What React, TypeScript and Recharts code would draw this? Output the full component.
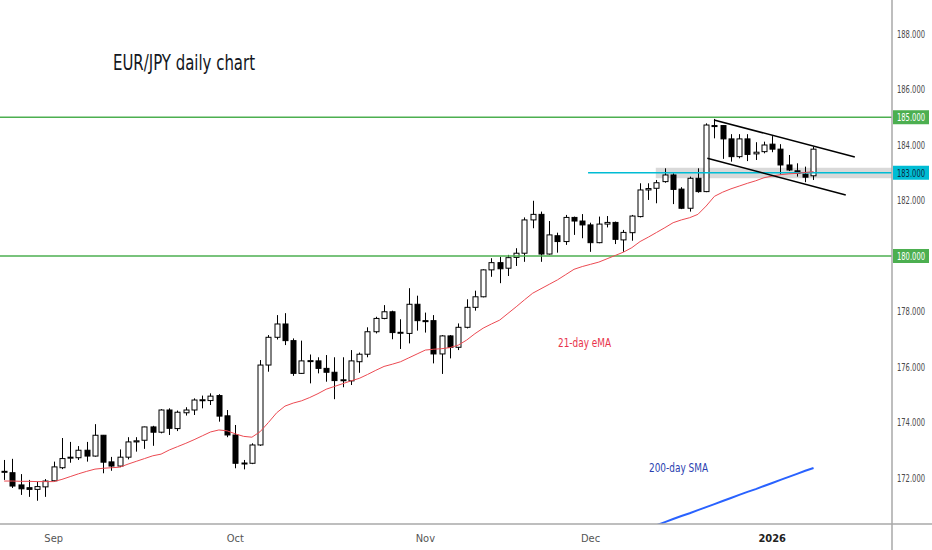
import React from "react";
import {
  ComposedChart,
  Bar,
  Line,
  XAxis,
  YAxis,
  ReferenceLine,
  ReferenceArea,
} from "recharts";

// daily candles, late Aug 2025 -> early Jan 2026
const opens = [
  172.22, 172.19, 171.75, 171.65, 171.59, 171.68, 171.9, 172.37, 172.73, 172.73,
  173.0, 172.79, 173.54, 172.58, 172.43, 172.75, 173.3, 173.36, 173.84, 173.65,
  174.45, 173.78, 174.35, 174.45, 174.8, 174.79, 174.97, 174.24, 173.55, 172.53,
  172.53, 173.19, 176.07, 177.07, 177.55, 176.95, 175.77, 176.22, 176.22, 175.95,
  175.81, 175.53, 175.5, 176.19, 176.46, 177.27, 177.75, 177.99, 177.24, 177.21,
  178.26, 177.67, 177.67, 176.47, 177.12, 176.71, 177.43, 178.15, 178.53, 179.5,
  179.76, 179.56, 179.95, 180.1, 181.3, 181.5, 180.07, 180.73, 180.52, 181.39,
  181.26, 181.12, 180.48, 181.15, 181.21, 180.58, 180.84, 181.42, 182.38, 182.44,
  182.68, 182.92, 182.41, 181.72, 182.8, 182.32, 184.7, 184.7, 184.22, 183.58,
  184.22, 183.68, 183.76, 184.03, 183.85, 183.28, 183.07, 182.95, 182.89,
];
const highs = [
  172.65, 172.69, 172.14, 171.93, 171.87, 171.96, 172.59, 173.44, 173.3, 173.15,
  173.3, 173.94, 173.55, 172.76, 173.03, 173.47, 173.47, 173.85, 173.88, 174.48,
  174.51, 174.43, 174.55, 174.87, 174.97, 175.05, 175.02, 174.45, 173.91, 172.65,
  173.25, 176.25, 177.15, 177.87, 177.94, 177.03, 176.95, 176.45, 176.35, 176.43,
  176.35, 176.35, 176.61, 176.52, 177.43, 177.81, 178.23, 178.03, 177.72, 178.84,
  178.57, 177.96, 177.87, 177.15, 177.15, 177.57, 178.44, 178.75, 179.52, 179.92,
  179.97, 180.04, 180.28, 181.39, 181.99, 181.6, 181.26, 180.84, 181.48, 181.42,
  181.51, 181.2, 181.42, 181.44, 181.24, 180.94, 181.48, 182.62, 182.62, 182.74,
  183.16, 182.98, 182.48, 182.86, 183.16, 184.78, 184.94, 184.72, 184.39, 184.39,
  184.39, 184.1, 184.12, 184.32, 184.03, 183.64, 183.34, 183.22, 183.94,
];
const lows = [
  171.93, 171.64, 171.39, 171.32, 171.18, 171.32, 171.87, 172.32, 172.55, 172.65,
  172.59, 172.77, 172.17, 172.26, 172.39, 172.67, 172.95, 173.05, 173.16, 173.61,
  173.55, 173.69, 174.25, 174.27, 174.51, 174.63, 174.03, 173.47, 172.35, 172.31,
  172.5, 173.16, 175.83, 176.99, 176.79, 175.68, 175.75, 175.41, 175.77, 175.47,
  174.84, 175.27, 175.35, 175.79, 176.35, 177.21, 177.72, 177.0, 176.65, 176.85,
  177.31, 177.24, 176.13, 175.75, 176.31, 176.61, 177.39, 178.03, 178.51, 179.25,
  179.02, 179.28, 179.64, 179.79, 181.0, 179.79, 180.05, 180.12, 180.4, 180.76,
  180.64, 180.15, 180.46, 181.03, 180.43, 180.15, 180.55, 181.39, 182.02, 181.9,
  182.64, 181.87, 181.69, 181.6, 182.28, 182.3, 184.24, 183.5, 183.4, 183.52,
  183.42, 183.46, 183.7, 183.74, 182.94, 183.06, 182.86, 182.66, 182.74,
];
const closes = [
  172.24, 171.71, 171.61, 171.59, 171.69, 171.89, 172.4, 172.7, 172.75, 173.0,
  172.79, 173.54, 172.57, 172.43, 172.75, 173.3, 173.34, 173.84, 173.65, 174.45,
  173.79, 174.37, 174.45, 174.81, 174.82, 174.95, 174.23, 173.55, 172.53, 172.54,
  173.19, 176.07, 177.07, 177.55, 176.95, 175.77, 176.22, 176.23, 175.95, 175.81,
  175.51, 175.54, 176.22, 176.46, 177.27, 177.75, 177.99, 177.24, 177.25, 178.26,
  177.67, 177.66, 176.47, 177.12, 176.71, 177.43, 178.15, 178.53, 179.5, 179.76,
  179.54, 179.94, 180.1, 181.3, 181.5, 180.07, 180.76, 180.52, 181.39, 181.26,
  181.12, 180.48, 181.15, 181.21, 180.6, 180.85, 181.44, 182.38, 182.43, 182.64,
  182.92, 182.4, 181.72, 182.8, 182.32, 184.72, 184.69, 184.22, 183.58, 184.22,
  183.66, 183.74, 184.0, 183.85, 183.28, 183.1, 182.98, 182.84, 183.85,
];

const ema21 = [
  171.89, 171.89, 171.88, 171.88, 171.87, 171.87, 171.87, 171.95, 172.05, 172.15,
  172.24, 172.32, 172.35, 172.37, 172.39, 172.5, 172.6, 172.7, 172.8, 172.86,
  173.01, 173.13, 173.25, 173.38, 173.52, 173.66, 173.73, 173.7, 173.59, 173.5,
  173.47, 173.67, 174.0, 174.35, 174.59, 174.7, 174.78, 174.9, 175.04, 175.2,
  175.3, 175.4, 175.5, 175.59, 175.73, 175.88, 176.02, 176.1, 176.19, 176.33,
  176.47, 176.61, 176.64, 176.66, 176.7, 176.79, 176.97, 177.2, 177.4, 177.55,
  177.69, 177.93, 178.17, 178.42, 178.66, 178.82, 178.98, 179.14, 179.33, 179.52,
  179.62, 179.7, 179.78, 179.9, 180.02, 180.14, 180.3, 180.52, 180.68, 180.85,
  181.02, 181.2, 181.3, 181.38, 181.5, 181.8, 182.15, 182.3, 182.42, 182.52,
  182.62, 182.71, 182.82, 182.88, 182.93, 182.96, 182.98, 183.01, 183.04,
];

// 200-day SMA, visible from bar 79 on
const smaStart = 79;
const sma200 = [
  170.3, 170.41, 170.52, 170.63, 170.73, 170.84, 170.95, 171.06, 171.17, 171.28,
  171.39, 171.5, 171.6, 171.71, 171.82, 171.93, 172.04, 172.15, 172.26, 172.36,
];

const monthTicks = [6, 28, 51, 71, 93];
const monthLabels = ["Sep", "Oct", "Nov", "Dec", "2026"];
const priceTicks = [172, 174, 176, 178, 180, 182, 184, 186, 188];

const levels = [185, 180];
const pivot = 183;
const pivotStart = 70.7;
const zone = { x1: 78.9, y1: 182.8, y2: 183.18 };
const channelTop = [
  { x: 85.95, y: 184.9 },
  { x: 103.0, y: 183.57 },
];
const channelBottom = [
  { x: 85.14, y: 183.52 },
  { x: 101.9, y: 182.2 },
];

const data = opens.map((o, i) => ({
  i,
  open: o,
  high: highs[i],
  low: lows[i],
  close: closes[i],
  ema: ema21[i],
  sma: i >= smaStart ? sma200[i - smaStart] : null,
}));

const FONT = "'DejaVu Sans Condensed', 'Liberation Sans Narrow', Roboto, sans-serif";

const Candle = (props: any) => {
  const { x, y, width, height, payload } = props;
  if (x == null || y == null) return null;
  const top = Math.min(y, y + height);
  const h = Math.abs(height);
  const { open, close, high, low } = payload;
  const px = (v: number) => top + ((high - v) / (high - low || 1)) * h;
  const cx = Math.round(x + width / 2) + 0.5;
  const up = close >= open;
  const bTop = px(Math.max(open, close));
  const bBot = px(Math.min(open, close));
  const bh = Math.max(1, bBot - bTop);
  return (
    <g>
      <line x1={cx} x2={cx} y1={top} y2={top + h} stroke="#000" strokeWidth={1} />
      <rect
        x={cx - 2.5}
        y={bTop}
        width={5}
        height={bh}
        fill={up ? "#fff" : "#000"}
        stroke="#000"
        strokeWidth={1}
      />
    </g>
  );
};

const MonthTick = (props: any) => {
  const { x, y, payload } = props;
  const k = monthTicks.indexOf(payload.value);
  const label = monthLabels[k] ?? "";
  const isYear = label === "2026";
  return (
    <text
      x={x}
      y={y + 10}
      textAnchor="middle"
      fontFamily={FONT}
      fontSize={11}
      fontWeight={isYear ? 700 : 400}
      fill={isYear ? "#222" : "#555"}
    >
      {label}
    </text>
  );
};

const PriceTick = (props: any) => {
  const { x, y, payload } = props;
  // levels carry their own badge
  if (levels.includes(payload.value)) return null;
  return (
    <text
      x={x + 28}
      y={y + 4}
      textAnchor="end"
      fontFamily={FONT}
      fontSize={10.5}
      fill="#4a4a4a"
      textLength={28}
      lengthAdjust="spacingAndGlyphs"
    >
      {payload.value.toFixed(3)}
    </text>
  );
};

const Badge = (props: any) => {
  const { viewBox, text, fill, color } = props;
  if (!viewBox) return null;
  const left = viewBox.x + viewBox.width;
  const cy = viewBox.y;
  return (
    <g>
      <rect x={left + 1} y={cy - 7} width={36} height={14} fill={fill} />
      <text
        x={left + 33}
        y={cy + 4}
        textAnchor="end"
        fontFamily={FONT}
        fontSize={10.5}
        fill={color}
        textLength={28}
        lengthAdjust="spacingAndGlyphs"
      >
        {text}
      </text>
    </g>
  );
};

export default function App() {
  return (
    <div
      style={{
        position: "fixed",
        left: 0,
        top: 0,
        width: 932,
        height: 550,
        background: "#fff",
      }}
    >
      <ComposedChart
        width={932}
        height={550}
        data={data}
        margin={{ top: 0, right: 0, bottom: 0, left: 0 }}
      >
        <XAxis
          dataKey="i"
          type="number"
          domain={[-0.5, 107.5]}
          allowDataOverflow
          ticks={monthTicks}
          interval={0}
          tick={<MonthTick />}
          tickLine={false}
          axisLine={{ stroke: "#a8a8a8", strokeWidth: 1.5 }}
          height={26}
        />
        <YAxis
          orientation="right"
          type="number"
          domain={[170.342, 189.225]}
          allowDataOverflow
          ticks={priceTicks}
          interval={0}
          tick={<PriceTick />}
          tickLine={false}
          tickSize={5}
          tickMargin={0}
          axisLine={{ stroke: "#a8a8a8", strokeWidth: 1.5 }}
          width={40}
        />
        <ReferenceArea
          x1={zone.x1}
          x2={107.5}
          y1={zone.y1}
          y2={zone.y2}
          fill="#cfcfcf"
          fillOpacity={0.8}
          stroke="none"
          ifOverflow="visible"
        />
        {levels.map((v) => (
          <ReferenceLine
            key={v}
            y={v}
            stroke="#4caf50"
            strokeWidth={1.5}
            label={<Badge text={v.toFixed(3)} fill="#4caf50" color="#fff" />}
          />
        ))}
        <ReferenceLine
          segment={[
            { x: pivotStart, y: pivot },
            { x: 107.5, y: pivot },
          ]}
          stroke="#00bcd4"
          strokeWidth={1.5}
          label={<Badge text={pivot.toFixed(3)} fill="#00bcd4" color="#0d2a40" />}
        />
        <Bar
          dataKey={(d: any) => [d.low, d.high]}
          shape={<Candle />}
          barSize={6}
          isAnimationActive={false}
        />
        <Line
          dataKey="ema"
          type="linear"
          stroke="#ec4a52"
          strokeWidth={1}
          dot={false}
          activeDot={false}
          isAnimationActive={false}
        />
        <Line
          dataKey="sma"
          type="linear"
          stroke="#2962ff"
          strokeWidth={2}
          dot={false}
          activeDot={false}
          connectNulls={false}
          isAnimationActive={false}
        />
        <ReferenceLine segment={channelTop} stroke="#000" strokeWidth={1.5} ifOverflow="visible" />
        <ReferenceLine segment={channelBottom} stroke="#000" strokeWidth={1.5} ifOverflow="visible" />
      </ComposedChart>
      <svg
        width={932}
        height={550}
        style={{ position: "absolute", left: 0, top: 0, pointerEvents: "none" }}
      >
        <line x1={892} x2={932} y1={524} y2={524} stroke="#a8a8a8" strokeWidth={1.5} />
        <line x1={892} x2={892} y1={524} y2={550} stroke="#a8a8a8" strokeWidth={1.5} />
        <text
          x={113}
          y={70}
          fontFamily={FONT}
          fontSize={21}
          fill="#131722"
          textLength={142}
          lengthAdjust="spacingAndGlyphs"
        >
          EUR/JPY daily chart
        </text>
        <text
          x={558}
          y={347}
          fontFamily={FONT}
          fontSize={12.5}
          fill="#e8334a"
          textLength={53}
          lengthAdjust="spacingAndGlyphs"
        >
          21-day eMA
        </text>
        <text
          x={649}
          y={472}
          fontFamily={FONT}
          fontSize={12.5}
          fill="#2a3fb0"
          textLength={59}
          lengthAdjust="spacingAndGlyphs"
        >
          200-day SMA
        </text>
      </svg>
    </div>
  );
}
